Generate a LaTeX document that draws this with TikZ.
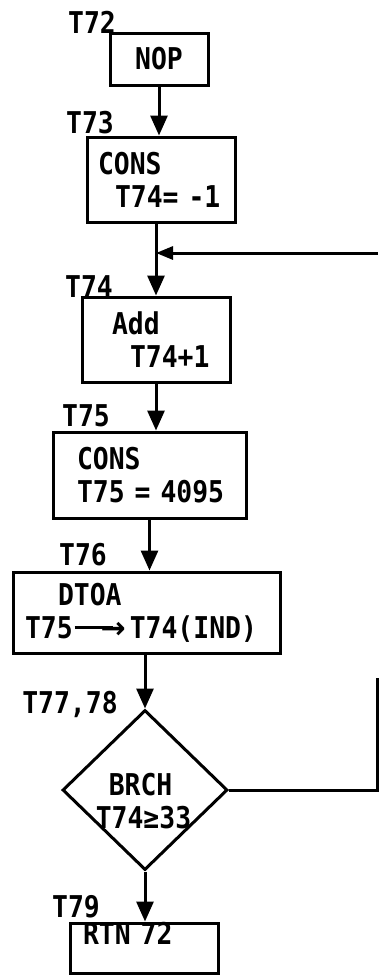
\documentclass[tikz,border=0pt]{standalone}
\usepackage{fontspec}
\setmainfont{DejaVu Sans Mono}[FakeStretch=0.88]
\newfontfamily\arrowfont{DejaVu Sans}
\usetikzlibrary{positioning,arrows.meta,shapes.geometric}

\begin{document}
\begin{tikzpicture}[x=1pt,y=-1pt,
  blk/.style={draw, line width=3pt, rectangle, align=left, inner ysep=0pt, font=\fontsize{30}{33}\selectfont\bfseries},
  cond/.style={draw, line width=3pt, diamond, inner sep=0pt, minimum width=165pt, minimum height=160pt},
  tag/.style={font=\fontsize{30}{33}\selectfont\bfseries, inner sep=0pt, text depth=0pt},
  flow/.style={line width=3pt, -{Triangle[width=17pt,length=20pt]}},
  back/.style={line width=3pt, -{Triangle[width=13pt,length=17pt]}}]
\useasboundingbox (0,0) rectangle (378,975);

% boxes
\node[blk, minimum width=98pt, minimum height=52pt, inner xsep=0pt, align=center] (nop) at (159,59) {NOP};
\node[blk, minimum height=85pt, inner xsep=11pt, text width=126pt] (cons1) at (161,179.5) {CONS\\\hspace*{17pt}T74=~-1};
\node[blk, minimum height=85pt, inner xsep=30pt, text width=88pt] (add) at (156,339.5) {Add\\\hspace*{18pt}T74+1};
\node[blk, minimum height=86pt, inner xsep=24pt, text width=145pt] (cons2) at (149.5,475) {CONS\\T75~=~4095};
\node[blk, minimum height=81pt, inner xsep=12pt, text width=243pt] (dtoa) at (146.5,612.5) {\hspace*{33pt}DTOA\\T75\hspace{2pt}\rule[9.5pt]{38pt}{3pt}\hspace{-12pt}{\arrowfont →}\hspace{4pt}T74(IND)};
\node[cond] (brch) at (145,790) {};
\node[tag, align=left] (brchtxt) at (143.5,801) {\hspace*{13pt}BRCH\\T74≥33};
\node[blk, minimum height=50pt, inner xsep=13pt, text width=122pt, text height=21.9pt, text depth=28pt] (rtn) at (144,948) {RTN~72};

% tags
\node[tag] (t72) at (92,22) {T72};
\node[tag] (t73) at (90,122) {T73};
\node[tag] (t74) at (89,287) {T74};
\node[tag] (t75) at (86,416) {T75};
\node[tag] (t76) at (83,554) {T76};
\node[tag] (t77) at (70,702) {T77,78};
\node[tag] (t79) at (76,906) {T79};

% flow
\draw[flow] (nop.south) -- (nop.south |- cons1.north);
\draw[flow] (add.north |- cons1.south) -- (add.north);
\draw[flow] (add.south) -- (add.south |- cons2.north);
\draw[flow] (cons2.south) -- (cons2.south |- dtoa.north);
\draw[flow] (brch.north |- dtoa.south) -- (brch.north);
\draw[flow] (brch.south) -- (brch.south |- rtn.north);

% loop back
\coordinate (loopin) at (378,253);
\coordinate (join) at (add.north |- loopin);
\coordinate (loopend) at (377,678);
\draw[back] (loopin) -- (join);
\draw[line width=3pt] (brch.east) -| (loopend);
\end{tikzpicture}
\end{document}
